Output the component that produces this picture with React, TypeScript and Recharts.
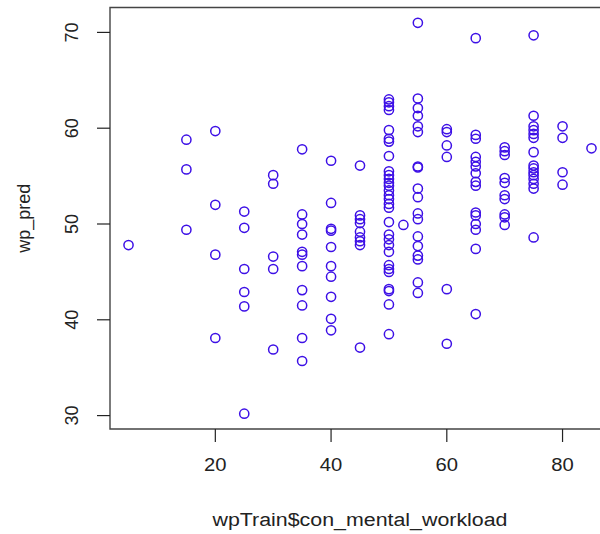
import { ScatterChart, Scatter, XAxis, YAxis, ReferenceArea } from 'recharts'

// workload levels (x) and the predicted values found at each level (y)
const workloadLevels = [5, 15, 20, 25, 30, 35, 40, 45, 50, 52.5, 55, 60, 65, 70, 75, 80, 85]
const predByLevel: number[][] = [
  [47.8],
  [58.8, 55.7, 49.4],
  [59.7, 52.0, 46.8, 38.1],
  [51.3, 49.6, 45.3, 42.9, 41.4, 30.2],
  [55.1, 54.2, 46.6, 45.3, 36.9],
  [57.8, 51.0, 50.0, 48.9, 47.1, 46.8, 45.6, 43.1, 41.5, 38.1, 35.7],
  [56.6, 52.2, 49.5, 49.3, 47.6, 45.6, 44.5, 42.4, 40.1, 38.9],
  [56.1, 50.9, 50.5, 50.1, 49.2, 48.6, 48.2, 47.8, 37.1],
  [
    63.0, 62.7, 62.3, 61.9, 59.8, 58.9, 58.6, 57.1, 55.5, 55.1, 54.7, 54.3, 54.0, 53.5, 53.0,
    52.6, 52.1, 51.7, 50.2, 48.9, 48.4, 47.8, 47.1, 45.7, 45.3, 45.0, 43.2, 43.0, 41.6, 38.5,
  ],
  [49.9],
  [71.0, 63.1, 62.1, 61.3, 60.2, 59.6, 56.0, 55.9, 53.7, 52.8, 51.1, 50.5, 48.7, 47.7, 46.7, 46.3, 43.9, 42.8],
  [59.9, 59.6, 58.2, 57.0, 43.2, 37.5],
  [69.4, 59.3, 58.9, 57.0, 56.5, 56.0, 55.3, 54.4, 54.0, 51.2, 50.9, 50.0, 49.4, 47.4, 40.6],
  [58.0, 57.6, 57.2, 54.8, 54.3, 53.0, 52.6, 51.0, 50.7, 49.9],
  [69.7, 61.3, 60.2, 59.8, 59.4, 59.0, 57.5, 56.1, 55.8, 55.4, 55.1, 54.7, 54.2, 53.7, 48.6],
  [60.2, 59.0, 55.4, 54.1],
  [57.9],
]

const xTicks = [20, 40, 60, 80]
const yTicks = [30, 40, 50, 60, 70]
const xDomain: [number, number] = [1.8, 88.2]
const yDomain: [number, number] = [28.6, 72.6]

const points = workloadLevels.flatMap((level, i) =>
  predByLevel[i].map((pred) => ({ workload: level, pred }))
)

const INK = '#222'
const FONT = '"Liberation Sans", Arial, Helvetica, sans-serif'
const POINT_COLOR = '#3d10e6'

function XTick({ x, y, payload }: any) {
  return (
    <text
      x={x}
      y={y + 27}
      textAnchor="middle"
      fontSize={18}
      fontFamily={FONT}
      fill={INK}
      textLength={22.5}
      lengthAdjust="spacingAndGlyphs"
    >
      {payload.value}
    </text>
  )
}

function YTick({ y, payload }: any) {
  const bx = 78.5
  return (
    <text
      x={bx}
      y={y}
      textAnchor="middle"
      fontSize={18}
      fontFamily={FONT}
      fill={INK}
      transform={`rotate(-90, ${bx}, ${y})`}
    >
      {payload.value}
    </text>
  )
}

function Ring({ cx, cy }: any) {
  return <circle cx={cx} cy={cy} r={4.6} fill="none" stroke={POINT_COLOR} strokeWidth={1.5} />
}

export default function App() {
  return (
    <div
      style={{
        position: 'fixed',
        left: 0,
        top: 0,
        width: 600,
        height: 534,
        overflow: 'hidden',
        background: '#fff',
      }}
    >
      <ScatterChart width={620} height={534} margin={{ top: 7.5, right: 10, bottom: 0, left: 0 }}>
        <XAxis
          type="number"
          dataKey="workload"
          domain={xDomain}
          ticks={xTicks}
          allowDataOverflow
          height={105}
          axisLine={false}
          tickSize={13}
          tickLine={{ stroke: INK, strokeWidth: 1.2 }}
          tick={<XTick />}
          label={(props: any) => {
            const vb = props.viewBox
            return (
              <text
                x={vb.x + vb.width / 2}
                y={526}
                textAnchor="middle"
                fontSize={18}
                fontFamily={FONT}
                fill={INK}
                textLength={295}
                lengthAdjust="spacingAndGlyphs"
              >
                wpTrain$con_mental_workload
              </text>
            )
          }}
        />
        <YAxis
          type="number"
          dataKey="pred"
          domain={yDomain}
          ticks={yTicks}
          allowDataOverflow
          width={110}
          axisLine={false}
          tickSize={13}
          tickLine={{ stroke: INK, strokeWidth: 1.2 }}
          tick={<YTick />}
          label={(props: any) => {
            const vb = props.viewBox
            const cy = vb.y + vb.height / 2
            return (
              <text
                x={30}
                y={cy}
                textAnchor="middle"
                fontSize={18}
                fontFamily={FONT}
                fill={INK}
                transform={`rotate(-90, 30, ${cy})`}
              >
                wp_pred
              </text>
            )
          }}
        />
        <ReferenceArea
          x1={xDomain[0]}
          x2={xDomain[1]}
          y1={yDomain[0]}
          y2={yDomain[1]}
          fill="none"
          stroke="#444"
          strokeWidth={1.4}
          ifOverflow="visible"
        />
        <Scatter data={points} shape={<Ring />} isAnimationActive={false} />
      </ScatterChart>
    </div>
  )
}
